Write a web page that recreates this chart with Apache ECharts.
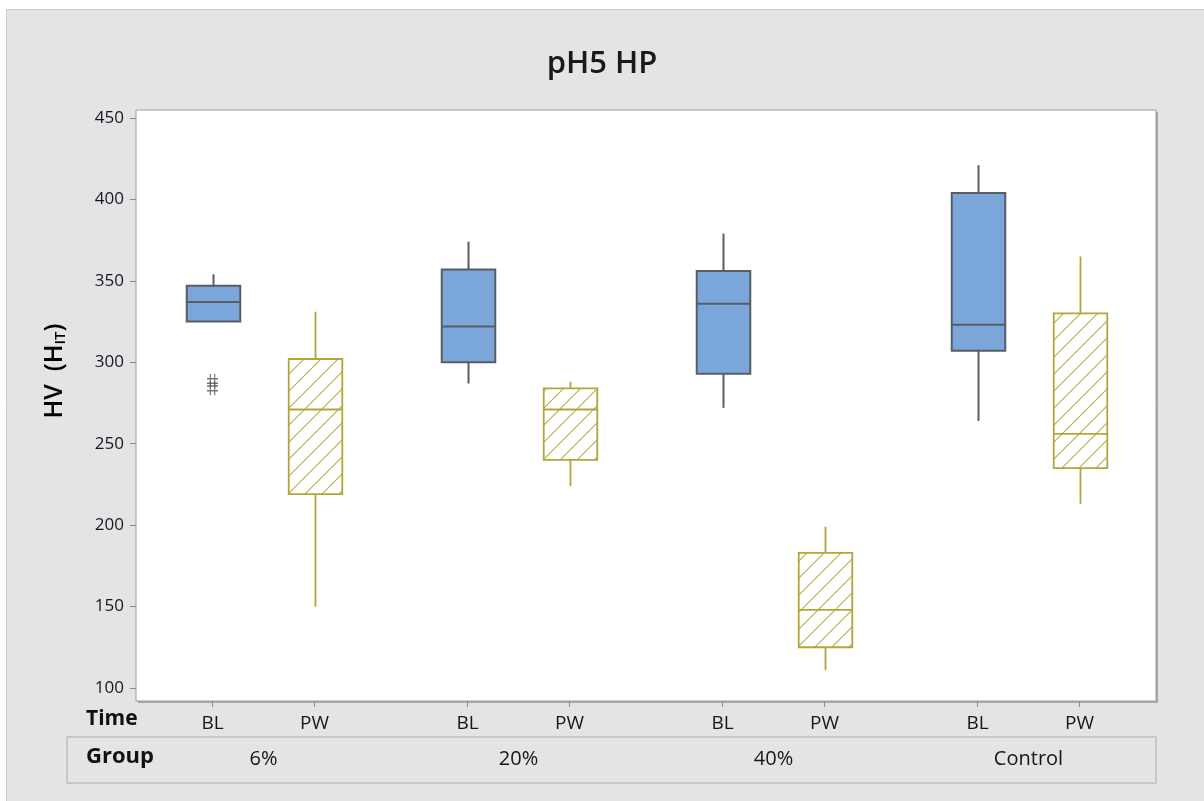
<!DOCTYPE html>
<html>
<head>
<meta charset="utf-8">
<script src="https://cdn.jsdelivr.net/npm/echarts@6/dist/echarts.min.js"></script>
<style>
html,body{margin:0;padding:0;background:#ffffff;}
#chart{width:1204px;height:801px;}
</style>
</head>
<body>
<div id="chart"></div>
<script>
// ---- data ----
const groups = ['6%', '20%', '40%', 'Control'];
const times = ['BL', 'PW'];
// [min, Q1, median, Q3, max] per group
const blValues = [
  [325, 325, 337, 347, 354],
  [287, 300, 322, 357, 374],
  [272, 293, 336, 356, 379],
  [264, 307, 323, 404, 421]
];
const pwValues = [
  [150, 219, 271, 302, 331],
  [224, 240, 271, 284, 288],
  [111, 125, 148, 183, 199],
  [213, 235, 256, 330, 365]
];
// outliers: [groupIndex, value] (BL time)
const blOutliers = [[0, 288.5], [0, 284.0]];
const yTicks = [100, 150, 200, 250, 300, 350, 400, 450];

// ---- category slots (layout of clustered axis) ----
const SLOTS = 20;
function slotOf(g, t) { return 1 + 5 * g + 2 * t; }
const timeCats = new Array(SLOTS).fill('');
const groupCats = new Array(SLOTS).fill('');
groups.forEach((gName, g) => {
  times.forEach((tName, t) => { timeCats[slotOf(g, t)] = tName; });
  groupCats[slotOf(g, 0) + 1] = gName;
});

const blData = blValues.map((v, g) => [slotOf(g, 0)].concat(v));
const pwData = pwValues.map((v, g) => [slotOf(g, 1)].concat(v));
const outData = blOutliers.map(o => [slotOf(o[0], 0), o[1]]);

// hatch pattern
const tile = 17;
const pc = document.createElement('canvas');
pc.width = tile; pc.height = tile;
const ctx = pc.getContext('2d');
ctx.fillStyle = '#ffffff';
ctx.fillRect(0, 0, tile, tile);
ctx.strokeStyle = '#b8ac4c';
ctx.lineWidth = 1.1;
ctx.beginPath();
ctx.moveTo(-1, tile + 1); ctx.lineTo(tile + 1, -1);
ctx.moveTo(-1, 1); ctx.lineTo(1, -1);
ctx.moveTo(tile - 1, tile + 1); ctx.lineTo(tile + 1, tile - 1);
ctx.stroke();
const hatch = { image: pc, repeat: 'repeat' };

function makeRender(fill, stroke, lw) {
  return function (params, api) {
    const x = api.value(0);
    const pMin = api.coord([x, api.value(1)]);
    const yQ1 = api.coord([x, api.value(2)])[1];
    const yMed = api.coord([x, api.value(3)])[1];
    const yQ3 = api.coord([x, api.value(4)])[1];
    const yMax = api.coord([x, api.value(5)])[1];
    const cx = Math.round(pMin[0]) + 0.5;
    const hw = api.size([1, 0])[0] * 0.525;
    const children = [];
    if (yMax < yQ3) children.push({ type: 'line', shape: { x1: cx, y1: yQ3, x2: cx, y2: yMax }, style: { stroke: stroke, lineWidth: lw } });
    if (pMin[1] > yQ1) children.push({ type: 'line', shape: { x1: cx, y1: yQ1, x2: cx, y2: pMin[1] }, style: { stroke: stroke, lineWidth: lw } });
    children.push({ type: 'rect', shape: { x: cx - hw, y: yQ3, width: 2 * hw, height: yQ1 - yQ3 }, style: { fill: fill, stroke: stroke, lineWidth: lw } });
    children.push({ type: 'line', shape: { x1: cx - hw, y1: yMed, x2: cx + hw, y2: yMed }, style: { stroke: stroke, lineWidth: lw } });
    return { type: 'group', children: children };
  };
}

const chart = echarts.init(document.getElementById('chart'), null, { renderer: 'canvas' });
const FONT = '"Open Sans", "Noto Sans", sans-serif';
chart.setOption({
  backgroundColor: '#ffffff',
  animation: false,
  title: {
    text: 'pH5 HP', left: 'center', top: 49, padding: 0,
    textStyle: { fontFamily: FONT, fontSize: 31, fontWeight: 600, color: '#1a1a1a' }
  },
  graphic: [
    { type: 'rect', z: -10, shape: { x: 6.5, y: 9.5, width: 1210, height: 800 }, style: { fill: '#e4e4e4', stroke: '#cbcbcb', lineWidth: 1 } },
    { type: 'rect', z: -5, shape: { x: 67, y: 737, width: 1089, height: 46 }, style: { fill: 'transparent', stroke: '#c8c8c8', lineWidth: 2 } },
    { type: 'rect', z: -6, shape: { x: 138, y: 112, width: 1020, height: 591 }, style: { fill: '#a9a9a9' } },
    { type: 'text', left: 86, top: 709, style: { text: 'Time', font: 'bold 21px ' + FONT, fill: '#111' } },
    { type: 'text', left: 86, top: 746, style: { text: 'Group', font: 'bold 22px ' + FONT, fill: '#111' } },
    {
      type: 'text', x: 55, y: 371, rotation: Math.PI / 2,
      style: {
        text: '{a|HV  (H}{s|IT}{a|)}', align: 'center', verticalAlign: 'middle',
        rich: {
          a: { fontFamily: FONT, fontSize: 25, fontWeight: 600, color: '#111' },
          s: { fontFamily: FONT, fontSize: 15, fontWeight: 600, color: '#111', padding: [12, 0, 0, 0] }
        }
      }
    }
  ],
  grid: {
    left: 136, top: 110, right: 48, bottom: 100,
    show: true, backgroundColor: '#ffffff', borderColor: '#9c9c9c', borderWidth: 1
  },
  xAxis: [
    {
      type: 'category', data: timeCats, position: 'bottom',
      axisLine: { show: false },
      axisTick: { show: true, alignWithLabel: true, length: 6, interval: function (i, v) { return v !== ''; }, lineStyle: { color: '#8a8a8a' } },
      axisLabel: { interval: 0, margin: 13, fontFamily: FONT, fontSize: 19, color: '#161616' },
      splitLine: { show: false }
    },
    {
      type: 'category', data: groupCats, position: 'bottom',
      axisLine: { show: false }, axisTick: { show: false },
      axisLabel: { interval: 0, margin: 48, fontFamily: FONT, fontSize: 20, color: '#161616' },
      splitLine: { show: false }
    }
  ],
  yAxis: {
    type: 'value', min: 92, max: 454.9,
    axisLine: { show: false },
    axisTick: { show: true, length: 6, customValues: yTicks, lineStyle: { color: '#8a8a8a' } },
    axisLabel: { customValues: yTicks, margin: 12, fontFamily: FONT, fontSize: 17, color: '#161626' },
    splitLine: { show: false }
  },
  series: [
    {
      type: 'custom', name: 'BL', xAxisIndex: 0, data: blData,
      encode: { x: 0, y: [1, 2, 3, 4, 5] },
      renderItem: makeRender('#7aa6d9', '#585d63', 2)
    },
    {
      type: 'custom', name: 'PW', xAxisIndex: 0, data: pwData,
      encode: { x: 0, y: [1, 2, 3, 4, 5] },
      renderItem: makeRender(hatch, '#b3a638', 1.8)
    },
    {
      type: 'scatter', name: 'Outlier', xAxisIndex: 0, data: outData,
      symbol: 'path://M3,0L3,12M7,0L7,12M0,4L10,4M0,8L10,8',
      symbolSize: [11, 14],
      itemStyle: { color: 'transparent', borderColor: '#50555b', borderWidth: 1.3 }
    }
  ]
});
</script>
</body>
</html>
